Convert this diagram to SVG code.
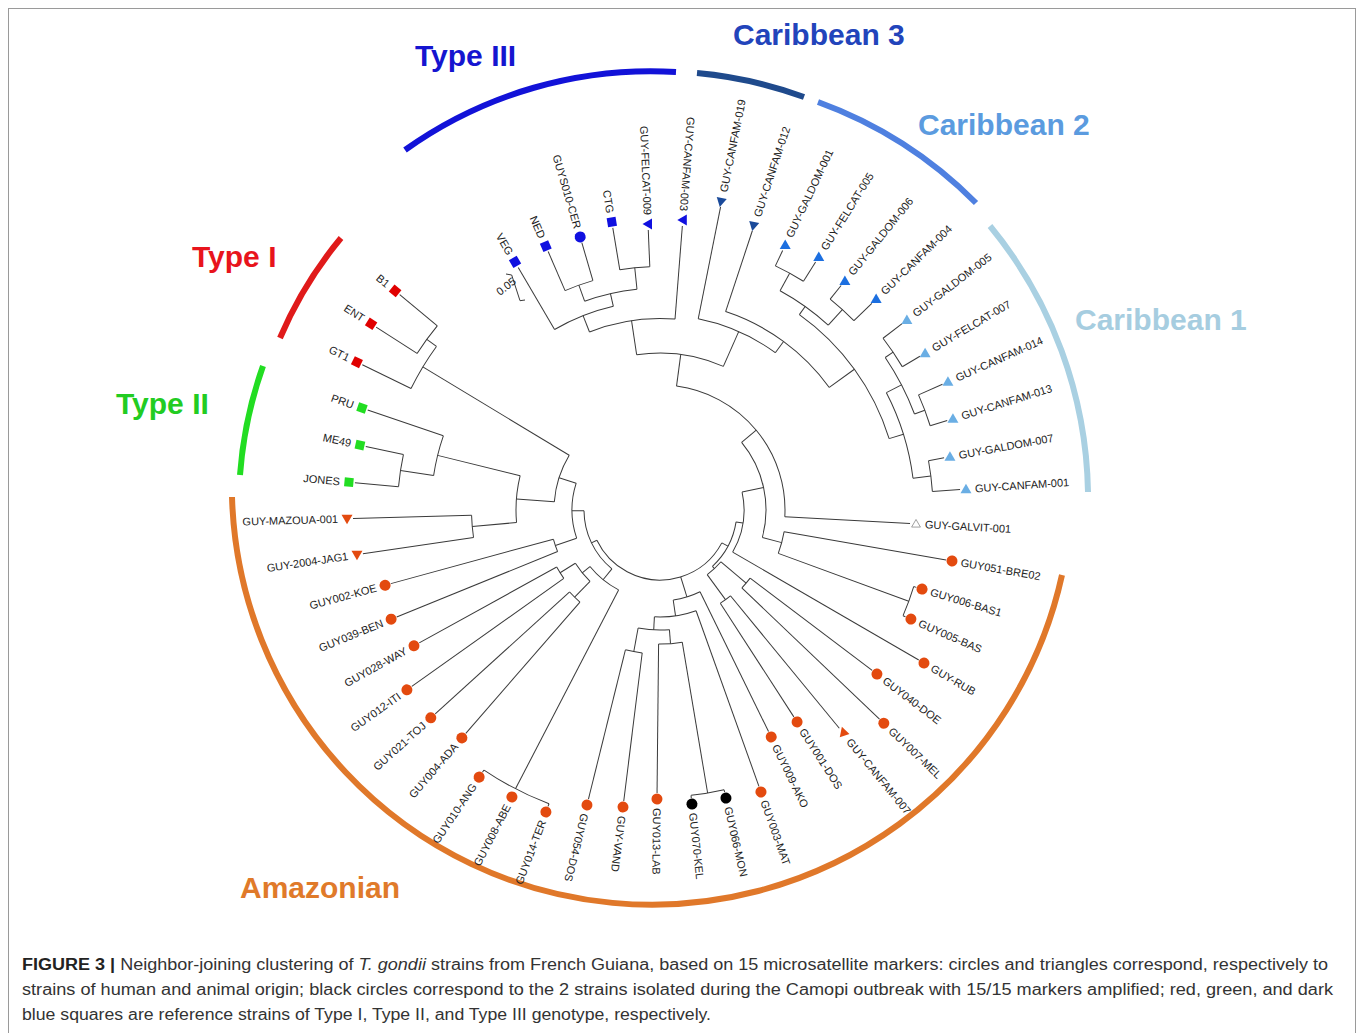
<svg xmlns="http://www.w3.org/2000/svg" width="1358" height="1033" viewBox="0 0 1358 1033">
<defs>
<style>
.lbl{font-family:"Liberation Sans",Arial,sans-serif;font-size:11px;fill:#222}
.grp{font-family:"Liberation Sans",Arial,sans-serif;font-size:30px;font-weight:bold}
.cap{font-family:"Liberation Sans",Arial,sans-serif;font-size:16px;fill:#333}
.band{fill:none;stroke-width:6}
.or{fill:#e34a0f}
.bk{fill:#000}
.t1{fill:#e00000}
.t2{fill:#22dd22}
.t3{fill:#1010e0}
.c3{fill:#1a4a9a}
.c2{fill:#1c6fe0}
.c1{fill:#6aaee4}
</style>
<polygon id="tu" points="0,-5.5 5.5,4 -5.5,4"/>
<polygon id="td" points="0,5.5 5.5,-4 -5.5,-4"/>
<polygon id="tl" points="-5.5,0 4,-5.5 4,5.5"/>
<polygon id="tul" points="-5,-4 5,-2 -2,6"/>
<rect id="sq" x="-4.5" y="-4.5" width="9" height="9"/>
</defs>
<rect x="0" y="0" width="1358" height="1033" fill="#fff"/>
<rect x="8.5" y="8.5" width="1347" height="1040" fill="none" stroke="#9a9a9a" stroke-width="1"/>

<g id="bands">
<path class="band" stroke="#1212d8" d="M405,150 A423,423 0 0 1 676,72"/>
<path class="band" stroke="#1f4a8c" d="M697,73 A423,423 0 0 1 804,97"/>
<path class="band" stroke="#4f80e0" d="M818,102 A428,428 0 0 1 976,203"/>
<path class="band" stroke="#a9d0e2" d="M990,226 A430,430 0 0 1 1088,492"/>
<path class="band" stroke="#e01a1a" d="M280,338 A405,405 0 0 1 341,238"/>
<path class="band" stroke="#22dd22" d="M240,475 A414,414 0 0 1 263,366"/>
<path class="band" stroke="#e0782a" d="M232,497 A420,420 0 0 0 1062,575"/>
<text class="grp" x="415" y="66" fill="#1515d0">Type III</text>
<text class="grp" x="733" y="45" fill="#2244bb">Caribbean 3</text>
<text class="grp" x="918" y="135" fill="#5b9bdf">Caribbean 2</text>
<text class="grp" x="1075" y="330" fill="#a6cde0">Caribbean 1</text>
<text class="grp" x="192" y="267" fill="#e8141c">Type I</text>
<text class="grp" x="116" y="414" fill="#22cc22">Type II</text>
<text class="grp" x="240" y="898" fill="#e07a2a">Amazonian</text>
</g>

<g id="scale">
<path d="M506,274 L511.7,275 L520,300.7 L525,300" fill="none" stroke="#3a3a3a" stroke-width="1"/>
<text class="lbl" font-size="9" transform="translate(500,296) rotate(-38)">0.05</text>
</g>

<g id="connectors" transform="translate(660,510)" fill="none" stroke="#3a3a3a" stroke-width="1">
<circle r="239" pathLength="360" stroke-dasharray="7.1 400" transform="rotate(-113.4)"/>
<circle r="243.5" pathLength="360" stroke-dasharray="7.1 400" transform="rotate(-99.5)"/>
<circle r="222" pathLength="360" stroke-dasharray="13.9 400" transform="rotate(-109.85)"/>
<circle r="209" pathLength="360" stroke-dasharray="17.4 400" transform="rotate(-120.3)"/>
<circle r="191.5" pathLength="360" stroke-dasharray="26.1 400" transform="rotate(-111.6)"/>
<circle r="157" pathLength="360" stroke-dasharray="32.35 400" transform="rotate(-98.55)"/>
<circle r="195" pathLength="360" stroke-dasharray="24.95 400" transform="rotate(-78.7)"/>
<circle r="209" pathLength="360" stroke-dasharray="35.8 400" transform="rotate(-71.7)"/>
<circle r="240" pathLength="360" stroke-dasharray="37.2 400" transform="rotate(-54.5)"/>
<circle r="250" pathLength="360" stroke-dasharray="13.6 400" transform="rotate(-61.3)"/>
<circle r="270" pathLength="360" stroke-dasharray="6.8 400" transform="rotate(-64.7)"/>
<circle r="271" pathLength="360" stroke-dasharray="6.8 400" transform="rotate(-51.1)"/>
<circle r="255" pathLength="360" stroke-dasharray="20.25 400" transform="rotate(-27.4)"/>
<circle r="272" pathLength="360" stroke-dasharray="13.45 400" transform="rotate(-34.1)"/>
<circle r="281.5" pathLength="360" stroke-dasharray="7 400" transform="rotate(-37.6)"/>
<circle r="283" pathLength="360" stroke-dasharray="6.7 400" transform="rotate(-24)"/>
<circle r="273" pathLength="360" stroke-dasharray="6.5 400" transform="rotate(-10.4)"/>
<circle r="125" pathLength="360" stroke-dasharray="85.5 400" transform="rotate(-82.4)"/>
<circle r="106" pathLength="360" stroke-dasharray="54.65 400" transform="rotate(-39.65)"/>
<circle r="126" pathLength="360" stroke-dasharray="10.25 400" transform="rotate(9.9)"/>
<circle r="265" pathLength="360" stroke-dasharray="6.7 400" transform="rotate(16.8)"/>
<circle r="84" pathLength="360" stroke-dasharray="42.4 400" transform="rotate(-12.3)"/>
<circle r="113" pathLength="360" stroke-dasharray="6.5 400" transform="rotate(37.1)"/>
<circle r="111" pathLength="360" stroke-dasharray="6.5 400" transform="rotate(50.6)"/>
<circle r="80" pathLength="360" stroke-dasharray="13.5 400" transform="rotate(40.35)"/>
<circle r="77" pathLength="360" stroke-dasharray="38.2 400" transform="rotate(8.9)"/>
<circle r="287" pathLength="360" stroke-dasharray="6.7 400" transform="rotate(77.1)"/>
<circle r="134" pathLength="360" stroke-dasharray="10.15 400" transform="rotate(80.45)"/>
<circle r="144" pathLength="360" stroke-dasharray="6.8 400" transform="rotate(97.1)"/>
<circle r="120" pathLength="360" stroke-dasharray="15 400" transform="rotate(85.5)"/>
<circle r="107" pathLength="360" stroke-dasharray="22.7 400" transform="rotate(70.3)"/>
<circle r="91" pathLength="360" stroke-dasharray="17.75 400" transform="rotate(63.9)"/>
<circle r="314" pathLength="360" stroke-dasharray="13.4 400" transform="rotate(110.7)"/>
<circle r="118" pathLength="360" stroke-dasharray="6.5 400" transform="rotate(144.6)"/>
<circle r="122" pathLength="360" stroke-dasharray="6.8 400" transform="rotate(131)"/>
<circle r="100" pathLength="360" stroke-dasharray="13.45 400" transform="rotate(134.4)"/>
<circle r="90" pathLength="360" stroke-dasharray="23.7 400" transform="rotate(117.4)"/>
<circle r="110.5" pathLength="360" stroke-dasharray="6.8 400" transform="rotate(157.9)"/>
<circle r="188.5" pathLength="360" stroke-dasharray="6.8 400" transform="rotate(171.6)"/>
<circle r="262.5" pathLength="360" stroke-dasharray="7.1 400" transform="rotate(185.1)"/>
<circle r="229" pathLength="360" stroke-dasharray="10.25 400" transform="rotate(188.65)"/>
<circle r="144" pathLength="360" stroke-dasharray="18.8 400" transform="rotate(175)"/>
<circle r="289" pathLength="360" stroke-dasharray="6.8 400" transform="rotate(212.8)"/>
<circle r="277" pathLength="360" stroke-dasharray="10.2 400" transform="rotate(206)"/>
<circle r="106" pathLength="360" stroke-dasharray="26.7 400" transform="rotate(184.4)"/>
<circle r="88" pathLength="360" stroke-dasharray="36.45 400" transform="rotate(161.3)"/>
<circle r="76" pathLength="360" stroke-dasharray="50.25 400" transform="rotate(129.25)"/>
<circle r="70" pathLength="360" stroke-dasharray="126.4 400" transform="rotate(28)"/>
<line x1="222" x2="239" transform="rotate(-109.85)"/>
<line x1="222" x2="243.5" transform="rotate(-95.95)"/>
<line x1="209" x2="222" transform="rotate(-102.9)"/>
<line x1="191.5" x2="209" transform="rotate(-111.6)"/>
<line x1="157" x2="191.5" transform="rotate(-98.55)"/>
<line x1="125" x2="157" transform="rotate(-82.4)"/>
<line x1="157" x2="195" transform="rotate(-66.2)"/>
<line x1="195" x2="209" transform="rotate(-53.75)"/>
<line x1="209" x2="240" transform="rotate(-35.9)"/>
<line x1="240" x2="250" transform="rotate(-54.5)"/>
<line x1="250" x2="270" transform="rotate(-61.3)"/>
<line x1="250" x2="271" transform="rotate(-47.7)"/>
<line x1="240" x2="255" transform="rotate(-17.3)"/>
<line x1="255" x2="272" transform="rotate(-27.4)"/>
<line x1="272" x2="281.5" transform="rotate(-34.1)"/>
<line x1="272" x2="283" transform="rotate(-20.65)"/>
<line x1="255" x2="273" transform="rotate(-7.15)"/>
<line x1="106" x2="125" transform="rotate(-39.65)"/>
<line x1="84" x2="106" transform="rotate(-12.3)"/>
<line x1="106" x2="126" transform="rotate(15)"/>
<line x1="126" x2="265" transform="rotate(20.15)"/>
<line x1="77" x2="84" transform="rotate(8.9)"/>
<line x1="80" x2="113" transform="rotate(40.35)"/>
<line x1="80" x2="111" transform="rotate(53.85)"/>
<line x1="77" x2="80" transform="rotate(47.1)"/>
<line x1="70" x2="77" transform="rotate(28)"/>
<line x1="134" x2="287" transform="rotate(80.45)"/>
<line x1="120" x2="134" transform="rotate(85.5)"/>
<line x1="120" x2="144" transform="rotate(100.5)"/>
<line x1="107" x2="120" transform="rotate(93)"/>
<line x1="91" x2="107" transform="rotate(81.65)"/>
<line x1="70" x2="91" transform="rotate(72.8)"/>
<line x1="90" x2="314" transform="rotate(117.4)"/>
<line x1="100" x2="118" transform="rotate(147.85)"/>
<line x1="100" x2="122" transform="rotate(134.4)"/>
<line x1="90" x2="100" transform="rotate(141.1)"/>
<line x1="76" x2="90" transform="rotate(129.25)"/>
<line x1="88" x2="110.5" transform="rotate(161.3)"/>
<line x1="144" x2="188.5" transform="rotate(175)"/>
<line x1="229" x2="262.5" transform="rotate(188.65)"/>
<line x1="144" x2="229" transform="rotate(193.8)"/>
<line x1="106" x2="144" transform="rotate(184.4)"/>
<line x1="277" x2="289" transform="rotate(216.2)"/>
<line x1="106" x2="277" transform="rotate(211.1)"/>
<line x1="88" x2="106" transform="rotate(197.75)"/>
<line x1="76" x2="88" transform="rotate(179.5)"/>
<line x1="70" x2="76" transform="rotate(154.4)"/>
<line x1="209" x2="281" transform="rotate(-120.3)"/>
<line x1="239" x2="281.6" transform="rotate(-113.4)"/>
<line x1="239" x2="278.5" transform="rotate(-106.3)"/>
<line x1="243.5" x2="286" transform="rotate(-99.5)"/>
<line x1="243.5" x2="280.3" transform="rotate(-92.4)"/>
<line x1="191.5" x2="284.9" transform="rotate(-85.5)"/>
<line x1="195" x2="309.2" transform="rotate(-78.7)"/>
<line x1="209" x2="294.1" transform="rotate(-71.7)"/>
<line x1="270" x2="287" transform="rotate(-64.7)"/>
<line x1="270" x2="292.8" transform="rotate(-57.9)"/>
<line x1="271" x2="288.4" transform="rotate(-51.1)"/>
<line x1="271" x2="296" transform="rotate(-44.3)"/>
<line x1="281.5" x2="305.6" transform="rotate(-37.6)"/>
<line x1="281.5" x2="302" transform="rotate(-30.6)"/>
<line x1="283" x2="309.2" transform="rotate(-24)"/>
<line x1="283" x2="300.8" transform="rotate(-17.3)"/>
<line x1="273" x2="288.8" transform="rotate(-10.4)"/>
<line x1="273" x2="300.7" transform="rotate(-3.9)"/>
<line x1="125" x2="250.4" transform="rotate(3.1)"/>
<line x1="126" x2="290.4" transform="rotate(9.9)"/>
<line x1="265" x2="267.7" transform="rotate(16.8)"/>
<line x1="265" x2="267.6" transform="rotate(23.5)"/>
<line x1="84" x2="299.1" transform="rotate(30.1)"/>
<line x1="113" x2="266" transform="rotate(37.1)"/>
<line x1="113" x2="303.1" transform="rotate(43.6)"/>
<line x1="111" x2="282.5" transform="rotate(50.6)"/>
<line x1="111" x2="246.4" transform="rotate(57.1)"/>
<line x1="91" x2="246.7" transform="rotate(63.9)"/>
<line x1="107" x2="293.5" transform="rotate(70.3)"/>
<line x1="287" x2="289.5" transform="rotate(77.1)"/>
<line x1="287" x2="289.7" transform="rotate(83.8)"/>
<line x1="134" x2="283" transform="rotate(90.6)"/>
<line x1="144" x2="293.3" transform="rotate(97.1)"/>
<line x1="144" x2="297.9" transform="rotate(103.9)"/>
<line x1="314" x2="316.8" transform="rotate(110.7)"/>
<line x1="314" x2="316.6" transform="rotate(124.1)"/>
<line x1="122" x2="296" transform="rotate(131)"/>
<line x1="122" x2="303.4" transform="rotate(137.8)"/>
<line x1="118" x2="304.5" transform="rotate(144.6)"/>
<line x1="118" x2="275" transform="rotate(151.1)"/>
<line x1="110.5" x2="284.2" transform="rotate(157.9)"/>
<line x1="110.5" x2="279" transform="rotate(164.7)"/>
<line x1="188.5" x2="300.3" transform="rotate(171.6)"/>
<line x1="188.5" x2="307.1" transform="rotate(178.4)"/>
<line x1="262.5" x2="306.3" transform="rotate(185.1)"/>
<line x1="262.5" x2="301" transform="rotate(192.2)"/>
<line x1="229" x2="309" transform="rotate(198.9)"/>
<line x1="277" x2="331.2" transform="rotate(206)"/>
<line x1="289" x2="337.7" transform="rotate(212.8)"/>
<line x1="289" x2="337.8" transform="rotate(219.6)"/>
</g>

<g id="leaves" transform="translate(660,510)">
<g id="n-veg"><use href="#sq" class="t3" transform="rotate(-120.3) translate(287.3,0)"/><text class="lbl" transform="rotate(59.7)" x="-296.3" dy="0.35em" text-anchor="end">VEG</text></g>
<g id="n-ned"><use href="#sq" class="t3" transform="rotate(-113.4) translate(287.6,0)"/><text class="lbl" transform="rotate(66.6)" x="-296.6" dy="0.35em" text-anchor="end">NED</text></g>
<g id="n-cer"><circle r="5.5" class="t3" transform="rotate(-106.3) translate(284.5,0)"/><text class="lbl" transform="rotate(73.7)" x="-293.5" dy="0.35em" text-anchor="end">GUYS010-CER</text></g>
<g id="n-ctg"><use href="#sq" class="t3" transform="rotate(-99.5) translate(292,0)"/><text class="lbl" transform="rotate(80.5)" x="-301" dy="0.35em" text-anchor="end">CTG</text></g>
<g id="n-felcat009"><use href="#tl" class="t3" transform="rotate(-92.4) translate(286.3,0) rotate(92.4)"/><text class="lbl" transform="rotate(87.6)" x="-295.3" dy="0.35em" text-anchor="end">GUY-FELCAT-009</text></g>
<g id="n-canfam003"><use href="#tl" class="t3" transform="rotate(-85.5) translate(290.9,0) rotate(85.5)"/><text class="lbl" transform="rotate(94.5)" x="-299.9" dy="0.35em" text-anchor="end">GUY-CANFAM-003</text></g>
<g id="n-canfam019"><use href="#tul" class="c3" transform="rotate(-78.7) translate(315.2,0) rotate(78.7)"/><text class="lbl" transform="rotate(-78.7)" x="324.2" dy="0.35em">GUY-CANFAM-019</text></g>
<g id="n-canfam012"><use href="#tul" class="c3" transform="rotate(-71.7) translate(300.1,0) rotate(71.7)"/><text class="lbl" transform="rotate(-71.7)" x="309.1" dy="0.35em">GUY-CANFAM-012</text></g>
<g id="n-galdom001"><use href="#tu" class="c2" transform="rotate(-64.7) translate(293,0) rotate(64.7)"/><text class="lbl" transform="rotate(-64.7)" x="302" dy="0.35em">GUY-GALDOM-001</text></g>
<g id="n-felcat005"><use href="#tu" class="c2" transform="rotate(-57.9) translate(298.8,0) rotate(57.9)"/><text class="lbl" transform="rotate(-57.9)" x="307.8" dy="0.35em">GUY-FELCAT-005</text></g>
<g id="n-galdom006"><use href="#tu" class="c2" transform="rotate(-51.1) translate(294.4,0) rotate(51.1)"/><text class="lbl" transform="rotate(-51.1)" x="303.4" dy="0.35em">GUY-GALDOM-006</text></g>
<g id="n-canfam004"><use href="#tu" class="c2" transform="rotate(-44.3) translate(302,0) rotate(44.3)"/><text class="lbl" transform="rotate(-44.3)" x="311" dy="0.35em">GUY-CANFAM-004</text></g>
<g id="n-galdom005"><use href="#tu" class="c1" transform="rotate(-37.6) translate(311.6,0) rotate(37.6)"/><text class="lbl" transform="rotate(-37.6)" x="320.6" dy="0.35em">GUY-GALDOM-005</text></g>
<g id="n-felcat007"><use href="#tu" class="c1" transform="rotate(-30.6) translate(308,0) rotate(30.6)"/><text class="lbl" transform="rotate(-30.6)" x="317" dy="0.35em">GUY-FELCAT-007</text></g>
<g id="n-canfam014"><use href="#tu" class="c1" transform="rotate(-24) translate(315.2,0) rotate(24)"/><text class="lbl" transform="rotate(-24)" x="324.2" dy="0.35em">GUY-CANFAM-014</text></g>
<g id="n-canfam013"><use href="#tu" class="c1" transform="rotate(-17.3) translate(306.8,0) rotate(17.3)"/><text class="lbl" transform="rotate(-17.3)" x="315.8" dy="0.35em">GUY-CANFAM-013</text></g>
<g id="n-galdom007"><use href="#tu" class="c1" transform="rotate(-10.4) translate(294.8,0) rotate(10.4)"/><text class="lbl" transform="rotate(-10.4)" x="303.8" dy="0.35em">GUY-GALDOM-007</text></g>
<g id="n-canfam001"><use href="#tu" class="c1" transform="rotate(-3.9) translate(306.7,0) rotate(3.9)"/><text class="lbl" transform="rotate(-3.9)" x="315.7" dy="0.35em">GUY-CANFAM-001</text></g>
<g id="n-galvit001"><use href="#tu" fill="#fff" stroke="#888" stroke-width="1" transform="rotate(3.1) translate(256.4,0) rotate(-3.1) scale(0.8)"/><text class="lbl" transform="rotate(3.1)" x="265.4" dy="0.35em">GUY-GALVIT-001</text></g>
<g id="n-bre02"><circle r="5.5" class="or" transform="rotate(9.9) translate(296.4,0)"/><text class="lbl" transform="rotate(9.9)" x="305.4" dy="0.35em">GUY051-BRE02</text></g>
<g id="n-bas1"><circle r="5.5" class="or" transform="rotate(16.8) translate(273.7,0)"/><text class="lbl" transform="rotate(16.8)" x="282.7" dy="0.35em">GUY006-BAS1</text></g>
<g id="n-bas005"><circle r="5.5" class="or" transform="rotate(23.5) translate(273.6,0)"/><text class="lbl" transform="rotate(23.5)" x="282.6" dy="0.35em">GUY005-BAS</text></g>
<g id="n-rub"><circle r="5.5" class="or" transform="rotate(30.1) translate(305.1,0)"/><text class="lbl" transform="rotate(30.1)" x="314.1" dy="0.35em">GUY-RUB</text></g>
<g id="n-doe"><circle r="5.5" class="or" transform="rotate(37.1) translate(272,0)"/><text class="lbl" transform="rotate(37.1)" x="281" dy="0.35em">GUY040-DOE</text></g>
<g id="n-mel"><circle r="5.5" class="or" transform="rotate(43.6) translate(309.1,0)"/><text class="lbl" transform="rotate(43.6)" x="318.1" dy="0.35em">GUY007-MEL</text></g>
<g id="n-canfam007"><use href="#tul" class="or" transform="rotate(50.6) translate(288.5,0) rotate(-50.6) rotate(150)"/><text class="lbl" transform="rotate(50.6)" x="297.5" dy="0.35em">GUY-CANFAM-007</text></g>
<g id="n-dos001"><circle r="5.5" class="or" transform="rotate(57.1) translate(252.4,0)"/><text class="lbl" transform="rotate(57.1)" x="261.4" dy="0.35em">GUY001-DOS</text></g>
<g id="n-ako"><circle r="5.5" class="or" transform="rotate(63.9) translate(252.7,0)"/><text class="lbl" transform="rotate(63.9)" x="261.7" dy="0.35em">GUY009-AKO</text></g>
<g id="n-mat"><circle r="5.5" class="or" transform="rotate(70.3) translate(299.5,0)"/><text class="lbl" transform="rotate(70.3)" x="308.5" dy="0.35em">GUY003-MAT</text></g>
<g id="n-mon"><circle r="5.5" class="bk" transform="rotate(77.1) translate(295.5,0)"/><text class="lbl" transform="rotate(77.1)" x="304.5" dy="0.35em">GUY066-MON</text></g>
<g id="n-kel"><circle r="5.5" class="bk" transform="rotate(83.8) translate(295.7,0)"/><text class="lbl" transform="rotate(83.8)" x="304.7" dy="0.35em">GUY070-KEL</text></g>
<g id="n-lab"><circle r="5.5" class="or" transform="rotate(90.6) translate(289,0)"/><text class="lbl" transform="rotate(90.6)" x="298" dy="0.35em">GUY013-LAB</text></g>
<g id="n-vand"><circle r="5.5" class="or" transform="rotate(97.1) translate(299.3,0)"/><text class="lbl" transform="rotate(97.1)" x="308.3" dy="0.35em">GUY-VAND</text></g>
<g id="n-dos054"><circle r="5.5" class="or" transform="rotate(103.9) translate(303.9,0)"/><text class="lbl" transform="rotate(103.9)" x="312.9" dy="0.35em">GUY054-DOS</text></g>
<g id="n-ter"><circle r="5.5" class="or" transform="rotate(110.7) translate(322.8,0)"/><text class="lbl" transform="rotate(290.7)" x="-331.8" dy="0.35em" text-anchor="end">GUY014-TER</text></g>
<g id="n-abe"><circle r="5.5" class="or" transform="rotate(117.3) translate(322.9,0)"/><text class="lbl" transform="rotate(297.3)" x="-331.9" dy="0.35em" text-anchor="end">GUY008-ABE</text></g>
<g id="n-ang"><circle r="5.5" class="or" transform="rotate(124.1) translate(322.6,0)"/><text class="lbl" transform="rotate(304.1)" x="-331.6" dy="0.35em" text-anchor="end">GUY010-ANG</text></g>
<g id="n-ada"><circle r="5.5" class="or" transform="rotate(131) translate(302,0)"/><text class="lbl" transform="rotate(311)" x="-311" dy="0.35em" text-anchor="end">GUY004-ADA</text></g>
<g id="n-toj"><circle r="5.5" class="or" transform="rotate(137.8) translate(309.4,0)"/><text class="lbl" transform="rotate(317.8)" x="-318.4" dy="0.35em" text-anchor="end">GUY021-TOJ</text></g>
<g id="n-iti"><circle r="5.5" class="or" transform="rotate(144.6) translate(310.5,0)"/><text class="lbl" transform="rotate(324.6)" x="-319.5" dy="0.35em" text-anchor="end">GUY012-ITI</text></g>
<g id="n-way"><circle r="5.5" class="or" transform="rotate(151.1) translate(281,0)"/><text class="lbl" transform="rotate(331.1)" x="-290" dy="0.35em" text-anchor="end">GUY028-WAY</text></g>
<g id="n-ben"><circle r="5.5" class="or" transform="rotate(157.9) translate(290.2,0)"/><text class="lbl" transform="rotate(337.9)" x="-299.2" dy="0.35em" text-anchor="end">GUY039-BEN</text></g>
<g id="n-koe"><circle r="5.5" class="or" transform="rotate(164.7) translate(285,0)"/><text class="lbl" transform="rotate(344.7)" x="-294" dy="0.35em" text-anchor="end">GUY002-KOE</text></g>
<g id="n-jag1"><use href="#td" class="or" transform="rotate(171.6) translate(306.3,0) rotate(-171.6)"/><text class="lbl" transform="rotate(351.6)" x="-315.3" dy="0.35em" text-anchor="end">GUY-2004-JAG1</text></g>
<g id="n-mazoua"><use href="#td" class="or" transform="rotate(178.4) translate(313.1,0) rotate(-178.4)"/><text class="lbl" transform="rotate(358.4)" x="-322.1" dy="0.35em" text-anchor="end">GUY-MAZOUA-001</text></g>
<g id="n-jones"><use href="#sq" class="t2" transform="rotate(185.1) translate(312.3,0)"/><text class="lbl" transform="rotate(5.1)" x="-321.3" dy="0.35em" text-anchor="end">JONES</text></g>
<g id="n-me49"><use href="#sq" class="t2" transform="rotate(192.2) translate(307,0)"/><text class="lbl" transform="rotate(12.2)" x="-316" dy="0.35em" text-anchor="end">ME49</text></g>
<g id="n-pru"><use href="#sq" class="t2" transform="rotate(198.9) translate(315,0)"/><text class="lbl" transform="rotate(18.9)" x="-324" dy="0.35em" text-anchor="end">PRU</text></g>
<g id="n-gt1"><use href="#sq" class="t1" transform="rotate(206) translate(337.2,0)"/><text class="lbl" transform="rotate(26)" x="-346.2" dy="0.35em" text-anchor="end">GT1</text></g>
<g id="n-ent"><use href="#sq" class="t1" transform="rotate(212.8) translate(343.7,0)"/><text class="lbl" transform="rotate(32.8)" x="-352.7" dy="0.35em" text-anchor="end">ENT</text></g>
<g id="n-b1"><use href="#sq" class="t1" transform="rotate(219.6) translate(343.8,0)"/><text class="lbl" transform="rotate(39.6)" x="-352.8" dy="0.35em" text-anchor="end">B1</text></g>
</g>

<g id="caption">
<text class="cap" x="22" y="970" textLength="1306" lengthAdjust="spacingAndGlyphs"><tspan font-weight="bold" fill="#222">FIGURE 3 |</tspan> Neighbor-joining clustering of <tspan font-style="italic">T. gondii</tspan> strains from French Guiana, based on 15 microsatellite markers: circles and triangles correspond, respectively to</text>
<text class="cap" x="22" y="995" textLength="1311" lengthAdjust="spacingAndGlyphs">strains of human and animal origin; black circles correspond to the 2 strains isolated during the Camopi outbreak with 15/15 markers amplified; red, green, and dark</text>
<text class="cap" x="22" y="1020" textLength="689" lengthAdjust="spacingAndGlyphs">blue squares are reference strains of Type I, Type II, and Type III genotype, respectively.</text>
</g>
</svg>
